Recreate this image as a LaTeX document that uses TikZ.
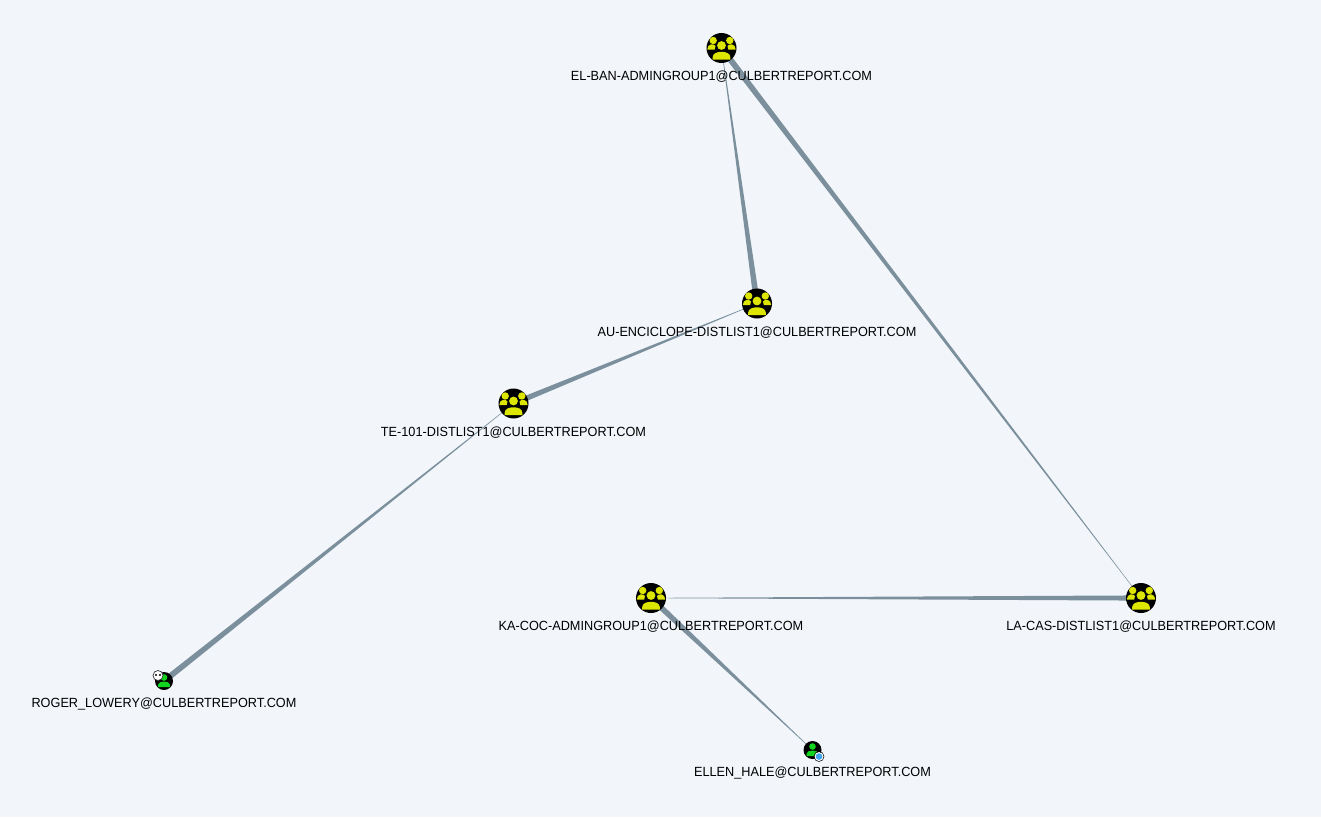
\documentclass[tikz,border=0pt]{standalone}
\usetikzlibrary{positioning, calc, backgrounds}
\usepackage{fontspec}
\setmainfont[FakeStretch=0.955]{Liberation Sans}
\definecolor{canvas}{HTML}{F2F6FB}
\definecolor{edgegrey}{HTML}{7B909C}
\definecolor{groupyellow}{HTML}{DDE600}
\definecolor{usergreen}{HTML}{12D41F}
\definecolor{badgeblue}{HTML}{3FA5EC}
% tapered connector, wide end at #1, thin end at #2
\newcommand{\taperedge}[3]{\fill[edgegrey] ($(#1)!#3!90:(#2)$) -- ($(#1)!#3!-90:(#2)$) -- ($(#2)!0.15pt!90:(#1)$) -- ($(#2)!0.15pt!-90:(#1)$) -- cycle;}

\begin{document}
\begin{tikzpicture}[x=1pt,y=-1pt,node distance=7.5pt]
    \tikzstyle{group node}=[circle,fill=black,minimum size=30pt,inner sep=0pt]
    \tikzstyle{user node}=[circle,fill=black,minimum size=18pt,inner sep=0pt]
    \tikzstyle{annot}=[inner sep=0pt,text height=10pt,text depth=0pt,font=\fontsize{13.3}{15}\selectfont]
    \tikzset{
      group icon/.pic={
        \fill[groupyellow] (0,-2.5) circle (4.4);
        \fill[groupyellow] (-8.3,-7.5) circle (3.7);
        \fill[groupyellow] (8.3,-7.5) circle (3.7);
        \fill[groupyellow] (-14.2,1.5) .. controls (-14.2,-4.5) and (-7.5,-4.8) .. (-6,-2) -- (-6.8,1.5) -- cycle;
        \fill[groupyellow] (14.2,1.5) .. controls (14.2,-4.5) and (7.5,-4.8) .. (6,-2) -- (6.8,1.5) -- cycle;
        \fill[groupyellow] (-8.8,11.5) -- (-8.8,9) .. controls (-8.8,2) and (8.8,2) .. (8.8,9) -- (8.8,11.5) -- cycle;
      },
      user icon/.pic={
        \fill[usergreen] (0,-3.5) circle (3.3);
        \fill[usergreen] (-5.8,6) -- (-5.8,3.5) .. controls (-5.8,-0.5) and (5.8,-0.5) .. (5.8,3.5) -- (5.8,6) -- cycle;
      }
    }
    \useasboundingbox (0,0) rectangle (1321,817);

    % Draw the group nodes
    \foreach \name/\x/\y/\txt in {elban/721.5/48/EL-BAN-ADMINGROUP1,auenc/757/303.5/AU-ENCICLOPE-DISTLIST1,te/513.5/403.5/TE-101-DISTLIST1,kacoc/651/598/KA-COC-ADMINGROUP1,lacas/1141/598/LA-CAS-DISTLIST1}{
        \node[group node] (\name) at (\x,\y) {};
        \node[annot,below=of \name] (\name-label) {\txt @CULBERTREPORT.COM};
        \pic at (\name) {group icon};
    }

    % Draw the user nodes
    \node[user node] (roger) at (164,681) {};
    \node[annot,below=of roger] (roger-label) {ROGER\_LOWERY@CULBERTREPORT.COM};
    \pic at (roger) {user icon};
    \node[user node] (ellen) at (812.5,750) {};
    \node[annot,below=of ellen] (ellen-label) {ELLEN\_HALE@CULBERTREPORT.COM};
    \pic at (ellen) {user icon};

    % skull and badge on the user nodes
    \node[circle,fill=white,draw=black!80,line width=0.7pt,minimum size=10pt,inner sep=0pt] (skull) at (158,675.5) {};
    \fill[black] (156,675) circle (1.2) (160,675) circle (1.2);
    \node[circle,fill=badgeblue,draw=white,line width=1pt,minimum size=8pt,inner sep=0pt] (badge) at (819,756.5) {};
    \node[circle,draw=black,line width=0.5pt,minimum size=10pt,inner sep=0pt] (badgering) at (badge) {};

    \begin{scope}[on background layer]
        \fill[canvas] (0,0) rectangle (1321,817);
        \taperedge{elban}{lacas}{3pt}
        \taperedge{auenc}{elban}{3pt}
        \taperedge{te}{auenc}{2.8pt}
        \taperedge{roger}{te}{3pt}
        \taperedge{lacas}{kacoc}{2.6pt}
        \taperedge{kacoc}{ellen}{3pt}
    \end{scope}
\end{tikzpicture}
\end{document}
